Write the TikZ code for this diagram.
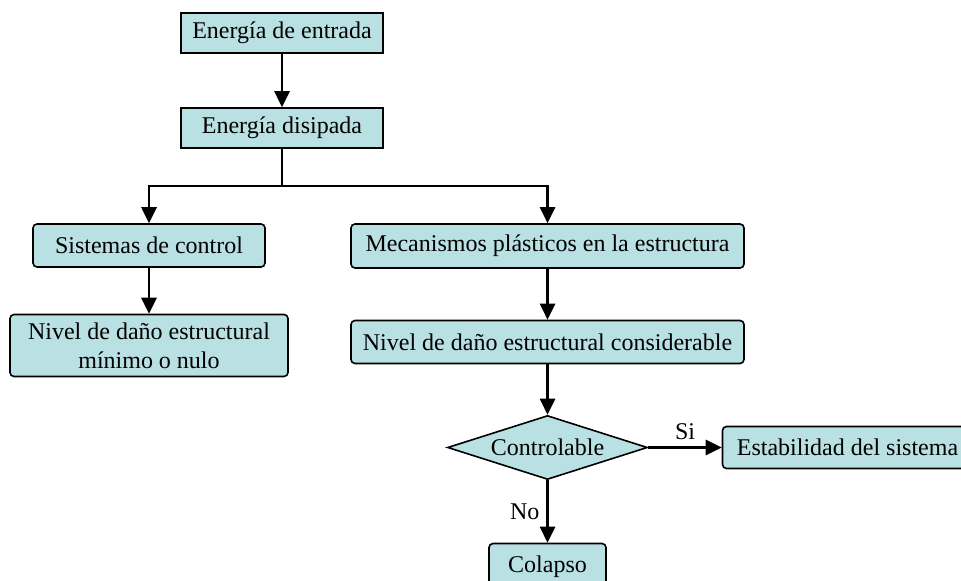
\documentclass[tikz,border=0pt]{standalone}
\usepackage{fontspec}
\setmainfont{Liberation Serif}
\usetikzlibrary{arrows.meta,shapes.geometric}
\usetikzlibrary{positioning}
\definecolor{cajafill}{RGB}{185,224,227}
\tikzset{
  caja/.style={rectangle,draw=black,fill=cajafill,line width=0.8pt,inner sep=2pt},
  cajar/.style={caja,rounded corners=2pt},
  decision/.style={diamond,draw=black,fill=cajafill,line width=0.8pt,inner sep=0pt,aspect=3.125,minimum width=100pt,minimum height=32pt},
  flecha/.style={line width=1.4pt,-{Triangle[length=8pt,width=7.5pt]}}
}

\begin{document}
\begin{tikzpicture}[x=0.5pt,y=-0.5pt,font=\fontsize{12}{14.5}\selectfont]
\useasboundingbox (0,0) rectangle (961,581);
\clip (0,0) rectangle (961,581);
\node[caja,minimum width=101pt,minimum height=20pt] (entrada) at (282,33) {Energía de entrada};
\node[caja,minimum width=101pt,minimum height=20pt,node distance=47.5pt,below of=entrada] (disipada) {Energía disipada};
\node[cajar,minimum width=116pt,minimum height=21.5pt] (control) at (149,245.5) {Sistemas de control};
\node[cajar,minimum width=139pt,minimum height=31pt,align=center,node distance=50pt,below of=control] (nulo) {Nivel de daño estructural\\mínimo o nulo};
\node[cajar,minimum width=196.5pt,minimum height=22pt] (mecanismos) at (547.5,246) {Mecanismos plásticos en la estructura};
\node[cajar,minimum width=196.5pt,minimum height=21.5pt,node distance=48pt,below of=mecanismos] (considerable) {Nivel de daño estructural considerable};
\node[decision,node distance=52.75pt,below of=considerable] (controlable) {Controlable};
\node[cajar,minimum width=130pt,minimum height=21pt,node distance=152.5pt,right of=controlable] (estabilidad) {\hspace*{-5pt}Estabilidad del sistema};
\node[cajar,minimum width=58.5pt,minimum height=23pt,node distance=59.5pt,below of=controlable] (colapso) {Colapso};
\coordinate (rama) at (282,186);
\draw[flecha] (entrada) -- (disipada);
\draw[flecha] (disipada.south) -- (rama) -| (control.north);
\draw[flecha] (rama) -| (mecanismos.north);
\draw[flecha] (control) -- (nulo);
\draw[flecha] (mecanismos) -- (considerable);
\draw[flecha] (considerable) -- (controlable);
\draw[flecha] (controlable) -- node[above]{Si} (estabilidad);
\draw[flecha] (controlable) -- node[left]{No} (colapso);
\end{tikzpicture}
\end{document}
